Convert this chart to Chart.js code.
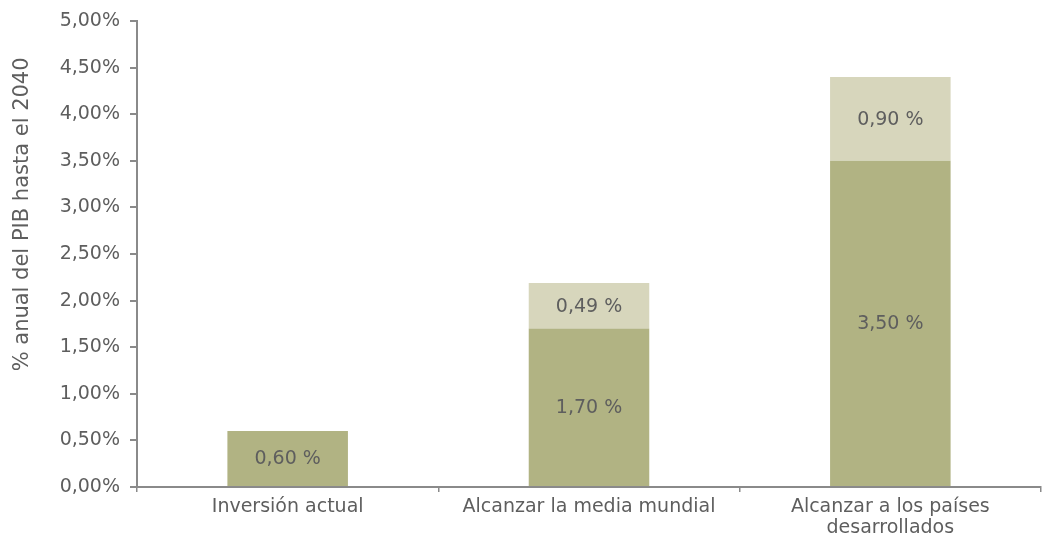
<!DOCTYPE html>
<html lang="es">
<head>
    <meta charset="UTF-8">
    <title>Inversión anual en % del PIB</title>
    <script src="https://cdn.jsdelivr.net/npm/chart.js"></script>
    <style>
        html, body { margin: 0; padding: 0; background: #ffffff; }
        #wrap { width: 1049px; height: 538px; }
    </style>
</head>
<body>
    <div id="wrap"><canvas id="inversionChart"></canvas></div>

    <script>
        // Categorías y valores (% anual del PIB)
        const categorias = ['Inversión actual', 'Alcanzar la media mundial', ['Alcanzar a los países', 'desarrollados']];
        const valoresBase = [0.60, 1.70, 3.50];
        const valoresExtra = [null, 0.49, 0.90];
        const ticksEje = [0, 0.5, 1, 1.5, 2, 2.5, 3, 3.5, 4, 4.5, 5];
        const tituloEje = '% anual del PIB hasta el 2040';

        const colorTexto = '#5e5e5e';
        const colorEje = '#8a8a8a';
        const fuente = { family: 'DejaVu Sans', size: 19, weight: 'normal', lineHeight: 1.1 };
        const fuenteCss = 'normal 19px "DejaVu Sans"';
        const fuenteTitulo = 'normal 21px "DejaVu Sans"';

        function formatoPct(v, espacio) {
            return v.toFixed(2).replace('.', ',') + (espacio ? ' %' : '%');
        }

        // Etiquetas centradas dentro de cada segmento
        const etiquetasBarras = {
            id: 'etiquetasBarras',
            afterDatasetsDraw(chart) {
                const ctx = chart.ctx;
                ctx.save();
                ctx.font = fuenteCss;
                ctx.fillStyle = colorTexto;
                ctx.textAlign = 'center';
                ctx.textBaseline = 'middle';
                chart.data.datasets.forEach((ds, i) => {
                    const meta = chart.getDatasetMeta(i);
                    meta.data.forEach((bar, j) => {
                        const v = ds.data[j];
                        if (v == null) return;
                        ctx.fillText(formatoPct(v, true), bar.x, (bar.y + bar.base) / 2 + 1);
                    });
                });
                ctx.restore();
            }
        };

        // Título vertical del eje Y, algo desplazado hacia arriba
        const tituloVertical = {
            id: 'tituloVertical',
            afterDraw(chart) {
                const ctx = chart.ctx;
                const area = chart.chartArea;
                ctx.save();
                ctx.font = fuenteTitulo;
                ctx.fillStyle = colorTexto;
                ctx.textAlign = 'center';
                ctx.textBaseline = 'middle';
                ctx.translate(23, area.top + (area.bottom - area.top) * 0.415);
                ctx.rotate(-Math.PI / 2);
                ctx.fillText(tituloEje, 0, 0);
                ctx.restore();
            }
        };

        const ctx = document.getElementById('inversionChart').getContext('2d');
        new Chart(ctx, {
            type: 'bar',
            data: {
                labels: categorias,
                datasets: [
                    { data: valoresBase, backgroundColor: '#b1b383' },
                    { data: valoresExtra, backgroundColor: '#d7d6bc' }
                ]
            },
            options: {
                responsive: true,
                maintainAspectRatio: false,
                animation: false,
                layout: { padding: { top: 21, right: 8, left: 0, bottom: 0 } },
                datasets: { bar: { barPercentage: 0.4, categoryPercentage: 1 } },
                plugins: {
                    legend: { display: false },
                    tooltip: { enabled: false }
                },
                scales: {
                    x: {
                        stacked: true,
                        border: { color: colorEje, width: 2 },
                        grid: { drawOnChartArea: false, drawTicks: true, tickLength: 5, color: colorEje, lineWidth: 1.5 },
                        ticks: { color: colorTexto, font: fuente, padding: 5, maxRotation: 0 },
                        afterFit(scale) { scale.height = 51; }
                    },
                    y: {
                        stacked: true,
                        min: 0,
                        max: 5,
                        border: { color: colorEje, width: 2 },
                        grid: { drawOnChartArea: false, drawTicks: true, tickLength: 7, color: colorEje, lineWidth: 2 },
                        afterBuildTicks(scale) { scale.ticks = ticksEje.map(v => ({ value: v })); },
                        ticks: {
                            color: colorTexto,
                            font: fuente,
                            padding: 10,
                            callback: v => formatoPct(v, false)
                        },
                        afterFit(scale) { scale.width = 137; }
                    }
                }
            },
            plugins: [etiquetasBarras, tituloVertical]
        });
    </script>
</body>
</html>
